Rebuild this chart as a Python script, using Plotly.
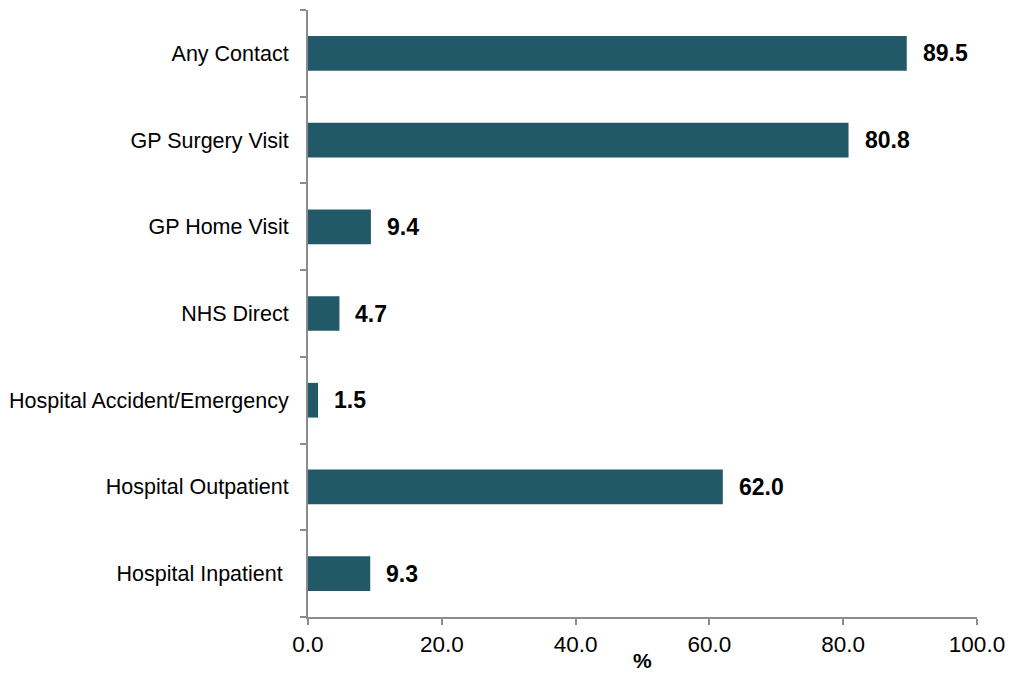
import plotly.graph_objects as go

# Service contact categories (top to bottom) and percentage values
categories = [
    "Any Contact",
    "GP Surgery Visit",
    "GP Home Visit",
    "NHS Direct",
    "Hospital Accident/Emergency",
    "Hospital Outpatient",
    "Hospital Inpatient ",
]
percentages = [89.5, 80.8, 9.4, 4.7, 1.5, 62.0, 9.3]
x_ticks = [0, 20, 40, 60, 80, 100]

BAR_COLOR = "#215968"
AXIS_COLOR = "#8c8c8c"
FONT = "Liberation Sans, Arial, sans-serif"

fig = go.Figure()
fig.add_trace(
    go.Bar(
        y=categories,
        x=percentages,
        orientation="h",
        marker=dict(color=BAR_COLOR, line=dict(width=0)),
        width=0.4,
        hoverinfo="skip",
    )
)

# Value labels to the right of each bar
for cat, val in zip(categories, percentages):
    fig.add_annotation(
        x=val, y=cat, text=f"<b>{val:.1f}</b>",
        xanchor="left", yanchor="middle", xshift=14, showarrow=False,
        font=dict(family=FONT, size=23, color="#000000"),
    )

# Axis title placed below the tick labels
fig.add_annotation(
    x=0.5, xref="paper", y=-0.071, yref="paper",
    text="<b>%</b>", showarrow=False, xanchor="center", yanchor="middle",
    font=dict(family=FONT, size=21, color="#000000"),
)

fig.update_layout(
    width=1015, height=673,
    margin=dict(l=308, r=38, t=10, b=56),
    paper_bgcolor="white", plot_bgcolor="white",
    showlegend=False,
    font=dict(family=FONT, color="#000000"),
    xaxis=dict(
        range=[0, 100], tickvals=x_ticks,
        ticktext=[f"{v:.1f}" for v in x_ticks],
        showgrid=False, zeroline=False, automargin=False,
        showline=True, linecolor=AXIS_COLOR, linewidth=2,
        ticks="outside", ticklen=6, tickwidth=2, tickcolor=AXIS_COLOR,
        tickfont=dict(family=FONT, size=22.5, color="#000000"),
    ),
    yaxis=dict(
        categoryorder="array", categoryarray=categories[::-1],
        range=[-0.5, len(categories) - 0.5],
        showgrid=False, zeroline=False, automargin=False,
        showline=True, linecolor=AXIS_COLOR, linewidth=2,
        ticks="outside", ticklen=6, tickwidth=2, tickcolor=AXIS_COLOR,
        tickson="boundaries",
        ticklabelstandoff=13,
        tickfont=dict(family=FONT, size=21.5, color="#000000"),
    ),
)

fig.write_html("out.html")
